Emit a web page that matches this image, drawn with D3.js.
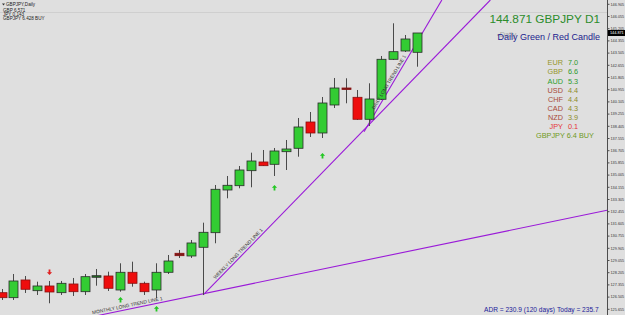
<!DOCTYPE html>
<html><head><meta charset="utf-8">
<script src="https://cdn.jsdelivr.net/npm/d3@7"></script>
<style>body{margin:0;background:#dfdfdf;overflow:hidden}svg{display:block;font-family:"Liberation Sans",Arial,sans-serif;}</style>
</head><body><svg id="c" width="625" height="315"></svg>
<script>
// ---------- DATA ----------
const dates = ["2016-10-26","2016-10-27","2016-10-28","2016-10-31","2016-11-01","2016-11-02","2016-11-03","2016-11-04","2016-11-07","2016-11-08","2016-11-09","2016-11-10","2016-11-11","2016-11-14","2016-11-15","2016-11-16","2016-11-17","2016-11-18","2016-11-21","2016-11-22","2016-11-23","2016-11-24","2016-11-25","2016-11-28","2016-11-29","2016-11-30","2016-12-01","2016-12-02","2016-12-05","2016-12-06","2016-12-07","2016-12-08","2016-12-09","2016-12-12","2016-12-13","2016-12-14"];
const opens  = [126.778,126.430,127.663,126.917,127.245,126.778,127.384,126.847,127.851,127.941,126.966,128.199,127.432,126.966,128.199,129.523,129.335,129.941,130.958,133.932,134.232,135.278,135.884,135.723,136.601,136.838,138.670,137.904,139.855,141.039,140.391,138.859,140.252,143.039,143.617,143.526];
const highs  = [127.035,128.080,127.941,127.544,127.593,127.593,127.802,128.080,128.429,128.241,128.826,128.938,127.544,128.826,129.404,129.753,130.449,131.655,134.281,134.908,135.605,136.532,136.720,136.859,137.416,138.949,139.367,140.412,141.736,141.715,140.900,141.367,143.269,145.547,144.732,144.871];
const lows   = [126.269,126.269,126.757,126.618,126.040,126.618,126.548,126.618,127.265,126.896,126.847,127.196,126.618,126.387,128.080,129.196,129.196,126.618,130.220,133.355,134.051,134.121,135.605,134.908,135.326,136.253,137.625,137.556,139.646,139.973,138.810,138.392,140.203,142.990,143.547,142.523];
const closes = [126.430,127.593,127.015,127.245,126.826,127.432,126.847,127.893,127.962,127.084,128.199,127.432,126.847,128.199,128.986,129.356,130.241,130.986,133.982,134.260,135.326,135.953,135.626,136.650,136.789,138.322,137.904,139.994,141.039,140.935,138.859,140.273,143.039,143.568,144.453,144.871];

const priceTicks = ["125.655","126.505","127.355","128.205","129.055","129.905","130.755","131.605","132.455","133.305","134.155","135.005","135.855","136.705","137.555","138.405","139.255","140.105","140.955","141.805","142.655","143.505","144.355","145.205","146.055","146.905"];
const lastPrice = 144.871;

// trend lines: [bar index, price]
const trendNames = ["MONTHLY LONG TREND LINE 1","WEEKLY LONG TREND LINE 1","DAILY LONG TREND LINE 1"];
const trendStart = [[8.13,125.19],[17,126.618],[30.56,137.99]];
const trendEnd   = [[51.05,132.52],[41.21,147.17],[37.12,147.17]];
const trendLabelAt = [7.71,18.16,31.6];

// signal arrows: [bar index, price]
const upArrows = [[10,126.478],[13,125.851],[23,134.281],[27,136.511]];
const downArrows = [[4,128.011]];

const currencies = ["EUR","GBP","AUD","USD","CHF","CAD","NZD","JPY"];
const strengths = [7.0,6.6,5.3,4.4,4.4,4.3,3.9,0.1];
const pairName = "GBPJPY", pairScore = 6.4, pairSignal = "BUY";

const infoLines = ["GBPJPY,Daily","GBP 6.571","JPY 0.143","GBPJPY 6.428 BUY"];
const adrValue = 230.9, adrDays = 120, todayRange = 235.7;

// ---------- CHART ----------
const W = 625, H = 315, axisX = 607.5;
const svg = d3.select("#c");
svg.append("rect").attr("width",W).attr("height",H).attr("fill","#dfdfdf");

const x = d3.scaleLinear().domain([0, dates.length-1]).range([1.6, 416.7]);
const y = d3.scaleLinear().domain([+priceTicks[0], +priceTicks[priceTicks.length-1]]).range([308.8, 3.8]);

svg.append("clipPath").attr("id","plot").append("rect").attr("x",0).attr("y",0).attr("width",axisX).attr("height",H);
const g = svg.append("g").attr("clip-path","url(#plot)");

g.append("line").attr("x1",0).attr("x2",axisX).attr("y1",12.5).attr("y2",12.5).attr("stroke","#cfcfcf").attr("stroke-width",1);

// trend lines
trendNames.forEach((name,k)=>{
  const [i0,p0]=trendStart[k],[i1,p1]=trendEnd[k];
  g.append("line").attr("x1",x(i0)).attr("y1",y(p0)).attr("x2",x(i1)).attr("y2",y(p1))
   .attr("stroke","#9a1ad8").attr("stroke-width",1.1);
});

// candles
const candles = dates.map((d,i)=>({d,i,o:opens[i],h:highs[i],l:lows[i],c:closes[i]}));
const bw = 9;
g.selectAll(".wick").data(candles).join("line")
  .attr("x1",d=>Math.round(x(d.i))+0.5).attr("x2",d=>Math.round(x(d.i))+0.5)
  .attr("y1",d=>y(d.h)).attr("y2",d=>y(d.l)).attr("stroke","#4a4a4a").attr("stroke-width",1);
g.selectAll(".body").data(candles).join("rect")
  .attr("x",d=>Math.round(x(d.i))+0.5-bw/2).attr("width",bw)
  .attr("y",d=>y(Math.max(d.o,d.c))).attr("height",d=>Math.max(1.5,Math.abs(y(d.o)-y(d.c))))
  .attr("fill",d=>{const small=Math.abs(y(d.o)-y(d.c))<2.5; return d.c>=d.o?(small?"#1f6e1f":"#33cc33"):(small?"#7a1a1a":"#ee0d0d");})
  .attr("stroke",d=>d.c>=d.o?"#2b2b2b":"#8a1010").attr("stroke-width",0.8);

// arrows
function upPath(cx,cy){return `M${cx},${cy}L${cx-2.6},${cy+2.8}L${cx-0.9},${cy+2.8}L${cx-0.9},${cy+5.5}L${cx+0.9},${cy+5.5}L${cx+0.9},${cy+2.8}L${cx+2.6},${cy+2.8}Z`;}
function downPath(cx,cy){return `M${cx},${cy}L${cx-2.6},${cy-2.8}L${cx-0.9},${cy-2.8}L${cx-0.9},${cy-5.5}L${cx+0.9},${cy-5.5}L${cx+0.9},${cy-2.8}L${cx+2.6},${cy-2.8}Z`;}
g.selectAll(".up").data(upArrows).join("path").attr("d",d=>upPath(Math.round(x(d[0]))+0.5,y(d[1]))).attr("fill","#22c722");
g.selectAll(".dn").data(downArrows).join("path").attr("d",d=>downPath(Math.round(x(d[0]))+0.5,y(d[1]))).attr("fill","#e02020");

// trend labels
trendNames.forEach((name,k)=>{
  const [i0,p0]=trendStart[k],[i1,p1]=trendEnd[k];
  const li=trendLabelAt[k];
  const lp=p0+(p1-p0)*(li-i0)/(i1-i0);
  const ang=Math.atan2(y(p1)-y(p0),x(i1)-x(i0))*180/Math.PI;
  g.append("text").attr("transform",`translate(${x(li)},${y(lp)}) rotate(${ang})`)
   .attr("dy",-2.2).attr("font-size",4.8).attr("fill","#333").text(name);
});

// axis
svg.append("line").attr("x1",axisX).attr("x2",axisX).attr("y1",0).attr("y2",H).attr("stroke","#4d4d4d").attr("stroke-width",1);
const ax = svg.append("g").attr("transform",`translate(${axisX},0)`)
  .call(d3.axisRight(y).tickValues(priceTicks.map(Number)).tickSize(2).tickPadding(1).tickFormat(d3.format(".3f")));
ax.select(".domain").remove();
ax.selectAll("line").attr("stroke","#4d4d4d");
ax.selectAll("text").attr("font-size",3.8).attr("fill","#333").attr("font-family","Liberation Sans, Arial, sans-serif");

// current price tag
const cy0 = y(lastPrice);
svg.append("rect").attr("x",axisX+0.5).attr("y",cy0-3).attr("width",W-axisX-0.5).attr("height",6).attr("fill","#000");
svg.append("text").attr("x",axisX+2.5).attr("y",cy0+1.4).attr("font-size",3.8).attr("fill","#fff").text(d3.format(".3f")(lastPrice));

// top-left info
svg.append("path").attr("d","M2,3.5L5,3.5L3.5,5.5Z").attr("fill","#333");
svg.selectAll(".info").data(infoLines).join("text")
  .attr("x",(d,i)=>i===0?6:3).attr("y",(d,i)=>[6,11.8,16,20.2][i])
  .attr("font-size",4.6).attr("fill","#222").text(d=>d);

// title
svg.append("text").attr("x",600).attr("y",22.5).attr("text-anchor","end").attr("font-size",11.8)
  .attr("fill","#2b8c2b").text(`${d3.format(".3f")(lastPrice)} ${pairName} D1`);
svg.append("text").attr("x",497).attr("y",36.5).attr("font-size",7.5).attr("fill","#a8a8a8").text("\u2022Daily");
svg.append("text").attr("x",600).attr("y",39.5).attr("text-anchor","end").attr("font-size",9)
  .attr("fill","#1c1c8e").text("Daily Green / Red Candle");

// currency strength panel
const nameCol = s=> s>=6?"#96962a":(s>=5?"#2e9e2e":(s>=1?"#a84a3a":"#e53535"));
const valCol  = s=> s>=5?"#2e9a2e":(s>=1?"#8c8c28":"#e53535");
currencies.forEach((c,i)=>{
  const yy = 65.3 + i*9.1;
  svg.append("text").attr("x",563).attr("y",yy).attr("text-anchor","end").attr("font-size",7.3).attr("fill",nameCol(strengths[i])).text(c);
  svg.append("text").attr("x",568).attr("y",yy).attr("font-size",7.3).attr("fill",valCol(strengths[i])).text(d3.format(".1f")(strengths[i]));
});
svg.append("text").attr("x",565).attr("y",65.3+8*9.1).attr("text-anchor","middle").attr("font-size",7.3)
  .attr("fill","#6f9a22").text(`${pairName} ${d3.format(".1f")(pairScore)} ${pairSignal}`);

// ADR
svg.append("text").attr("x",484).attr("y",311.5).attr("font-size",6.6).attr("fill","#1c1c9a")
  .text(`ADR = ${adrValue}  (${adrDays} days)`);
svg.append("text").attr("x",557).attr("y",311.5).attr("font-size",6.6).attr("fill","#1c1c9a")
  .text(`Today = ${todayRange}`);
</script></body></html>
